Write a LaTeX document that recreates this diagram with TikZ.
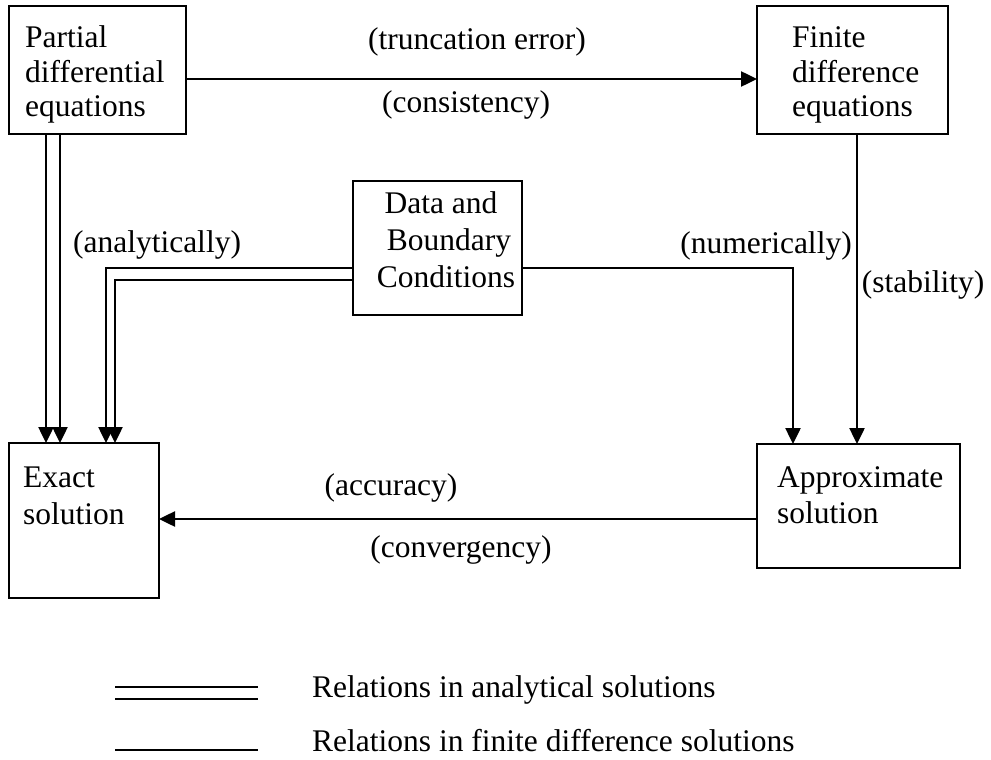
\documentclass[tikz,border=0pt]{standalone}
\usepackage{fontspec}
\setmainfont{Liberation Serif}
\usetikzlibrary{arrows.meta}
\begin{document}
\begin{tikzpicture}[x=1pt,y=-1pt,
  box/.style={draw, line width=1.8pt, inner sep=0pt, outer sep=0pt, anchor=north west},
  txt/.style={inner sep=0pt, anchor=base west, font=\fontsize{31.5}{35}\selectfont},
  ctxt/.style={inner sep=0pt, anchor=base, font=\fontsize{31.5}{35}\selectfont},
  conn/.style={line width=2.5pt, -{Triangle[length=16pt,width=15pt]}},
  plain/.style={line width=2.5pt}]
\useasboundingbox (0,0) rectangle (991,760);
% boxes
\node[box, minimum width=177pt, minimum height=128pt] (pde) at (9,6) {};
\node[box, minimum width=191pt, minimum height=128pt] (fde) at (757,6) {};
\node[box, minimum width=169pt, minimum height=134pt] (data) at (353,181) {};
\node[box, minimum width=150pt, minimum height=155pt] (exact) at (9,443) {};
\node[box, minimum width=203pt, minimum height=124pt] (approx) at (757,444) {};
% box texts
\node[txt] (pde1) at (25,48) {Partial};
\node[txt] (pde2) at (25,83) {differential};
\node[txt] (pde3) at (25,117) {equations};
\node[txt] (fde1) at (792,48) {Finite};
\node[txt] (fde2) at (792,83) {difference};
\node[txt] (fde3) at (792,117) {equations};
\node[ctxt] (data1) at (441,213) {Data and};
\node[ctxt] (data2) at (449,250) {Boundary};
\node[ctxt] (data3) at (446,287) {Conditions};
\node[txt] (ex1) at (23,487) {Exact};
\node[txt] (ex2) at (23,524) {solution};
\node[txt] (ap1) at (777,487) {Approximate};
\node[txt] (ap2) at (777,523) {solution};
% connectors
\draw[conn] ([yshift=-9pt]pde.east) -- ([yshift=-9pt]fde.west);
\draw[conn] ([xshift=37pt]pde.south west) -- ([xshift=37pt]exact.north west);
\draw[conn] ([xshift=51pt]pde.south west) -- ([xshift=51pt]exact.north west);
\draw[conn] ([yshift=-20pt]data.west) -| ([xshift=97pt]exact.north west);
\draw[conn] ([yshift=-32pt]data.west) -| ([xshift=106pt]exact.north west);
\draw[conn] ([yshift=-20pt]data.east) -| ([xshift=36pt]approx.north west);
\draw[conn] ([xshift=100pt]fde.south west) -- ([xshift=100pt]approx.north west);
\draw[conn] ([yshift=-13pt]approx.west) -- ([yshift=-13pt]approx.west -| exact.east);
% labels
\node[ctxt] (l1) at (477,50) {(truncation error)};
\node[ctxt] (l2) at (466,113) {(consistency)};
\node[ctxt] (l3) at (157,252) {(analytically)};
\node[ctxt] (l4) at (766,253) {(numerically)};
\node[ctxt] (l5) at (923,292) {(stability)};
\node[ctxt] (l6) at (391,495) {(accuracy)};
\node[ctxt] (l7) at (461,557) {(convergency)};
% legend
\coordinate (la1) at (115,687); \coordinate (lb1) at (258,687);
\coordinate (la2) at (115,699); \coordinate (lb2) at (258,699);
\coordinate (la3) at (115,750); \coordinate (lb3) at (258,750);
\draw[plain] (la1) -- (lb1);
\draw[plain] (la2) -- (lb2);
\draw[plain] (la3) -- (lb3);
\node[txt] (leg1) at (312,697) {Relations in analytical solutions};
\node[txt] (leg2) at (312,751) {Relations in finite difference solutions};
\end{tikzpicture}
\end{document}
